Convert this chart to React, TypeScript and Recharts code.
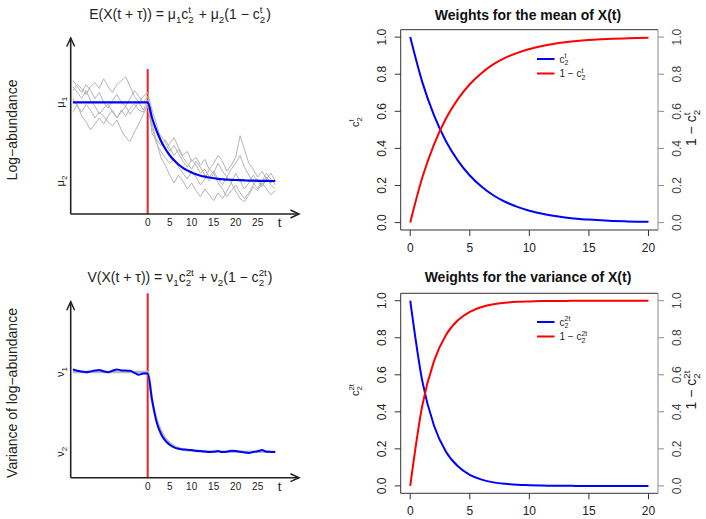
import React from "react";
import { ComposedChart, Line, XAxis, YAxis, ReferenceLine, Legend } from "recharts";

// time axis of the simulated trajectories (left panels)
const simT = [
  -17, -16, -15, -14, -13, -12, -11, -10, -9, -8, -7, -6, -5, -4, -3, -2, -1,
  0, 1, 2, 3, 4, 5, 6, 7, 8, 9, 10, 11, 12, 13, 14, 15, 16, 17, 18, 19, 20,
  21, 22, 23, 24, 25, 26, 27, 28, 29,
];

// five simulated log-abundance paths (grey)
const path1 = [
  7.1, 6.8, 6.5, 6.9, 6.6, 6.2, 6.5, 6.0, 5.7, 6.1, 6.4, 6.0, 5.8, 6.2, 6.6, 6.3, 6.0,
  6.3, 5.2, 4.6, 4.3, 4.0, 3.5, 3.8, 3.4, 3.0, 2.7, 3.1, 2.8, 2.4, 2.6, 2.2, 2.5, 2.1, 1.8, 2.2, 1.9,
  2.4, 2.0, 1.6, 1.9, 2.3, 2.0, 1.7, 2.1, 1.8, 1.6,
];
const path2 = [
  6.6, 6.9, 6.7, 6.4, 6.8, 7.0, 6.7, 7.2, 6.8, 6.5, 6.9, 7.1, 7.3, 6.8, 6.3, 6.0, 6.3,
  6.5, 5.6, 4.9, 4.1, 3.6, 3.9, 4.2, 3.7, 3.3, 3.5, 3.0, 3.2, 2.8, 3.1, 2.6, 2.9, 3.3, 3.0, 2.5, 2.8,
  3.2, 4.3, 3.6, 2.9, 2.6, 2.2, 2.5, 2.1, 2.4, 2.0,
];
const path3 = [
  6.2, 5.8, 5.5, 5.9, 5.6, 5.2, 5.5, 5.3, 5.0, 4.8, 5.1, 4.6, 4.2, 4.0, 4.5, 4.9, 5.4,
  5.8, 4.9, 4.0, 3.2, 2.8, 2.3, 1.9, 2.3, 2.0, 1.6, 1.9, 1.5, 1.2, 1.6, 1.3, 1.0, 1.4, 1.1, 1.5, 1.9,
  1.5, 1.1, 0.95, 1.3, 1.7, 1.5, 1.9, 1.6, 1.3, 1.5,
];
const path4 = [
  5.5, 5.9, 5.3, 5.0, 4.6, 4.9, 5.2, 4.9, 5.3, 5.6, 5.2, 5.5, 5.8, 5.4, 5.7, 6.0, 5.6,
  6.1, 4.4, 4.1, 3.8, 4.1, 3.7, 3.3, 3.6, 3.2, 2.9, 2.6, 3.0, 2.7, 2.3, 2.0, 2.4, 1.9, 1.6, 1.2, 1.5,
  1.8, 1.4, 1.1, 1.4, 1.8, 2.1, 1.8, 2.2, 1.9, 2.1,
];
const path5 = [
  6.8, 6.5, 6.2, 6.6, 6.1, 5.8, 5.4, 5.7, 5.9, 5.5, 5.2, 5.6, 5.3, 5.7, 5.9, 5.6, 5.5,
  5.9, 4.7, 3.9, 3.5, 3.2, 2.9, 3.1, 2.7, 2.4, 2.1, 2.5, 2.2, 1.8, 2.1, 2.6, 2.4, 2.9, 2.5, 2.2, 2.6,
  2.9, 3.3, 2.7, 2.3, 1.9, 1.6, 2.0, 2.4, 2.1, 1.8,
];
// expected log-abundance (blue)
const meanPath = [
  6, 6, 6, 6, 6, 6, 6, 6, 6, 6, 6, 6, 6, 6, 6, 6, 6,
  6, 5.2, 4.56, 4.05, 3.64, 3.31, 3.05, 2.84, 2.67, 2.54, 2.43, 2.34, 2.27, 2.22, 2.18, 2.14, 2.11, 2.09, 2.07, 2.06,
  2.05, 2.04, 2.03, 2.02, 2.02, 2.01, 2.01, 2.01, 2.0, 2.0,
];
// variance: empirical (blue) and theoretical (grey)
const varEmpirical = [
  6.13, 6.06, 6.02, 5.99, 6.03, 6.07, 6.1, 6.03, 5.99, 6.06, 6.13, 6.08, 6.07, 6.06, 5.96, 5.86, 5.92,
  5.92, 4.6, 3.5, 2.9, 2.55, 2.35, 2.22, 2.15, 2.11, 2.1, 2.08, 2.05, 2.03, 2.01, 1.98, 2.0, 2.03, 1.98, 2.0, 2.05,
  2.04, 2.0, 1.96, 1.94, 1.99, 2.02, 2.08, 2.0, 1.99, 1.98,
];
const varTheory = [
  6, 6, 6, 6, 6, 6, 6, 6, 6, 6, 6, 6, 6, 6, 6, 6, 6,
  6, 4.56, 3.64, 3.05, 2.67, 2.43, 2.27, 2.18, 2.11, 2.07, 2.05, 2.03, 2.02, 2.01, 2.01, 2.0, 2.0, 2.0, 2.0, 2.0,
  2.0, 2.0, 2.0, 2.0, 2.0, 2.0, 2.0, 2.0, 2.0, 2.0,
];

// weights (right panels)
const weightT = [0, 1, 2, 3, 4, 5, 6, 7, 8, 9, 10, 11, 12, 13, 14, 15, 16, 17, 18, 19, 20];
const meanW = [1, 0.76, 0.578, 0.439, 0.334, 0.254, 0.193, 0.146, 0.111, 0.085, 0.064, 0.049, 0.037, 0.028, 0.021, 0.016, 0.012, 0.009, 0.007, 0.005, 0.004];
const meanW1 = [0, 0.24, 0.422, 0.561, 0.666, 0.746, 0.807, 0.854, 0.889, 0.915, 0.936, 0.951, 0.963, 0.972, 0.979, 0.984, 0.988, 0.991, 0.993, 0.995, 0.996];
const varW = [1, 0.57, 0.325, 0.185, 0.106, 0.06, 0.034, 0.019, 0.011, 0.006, 0.004, 0.002, 0.001, 0.001, 0, 0, 0, 0, 0, 0, 0];
const varW1 = [0, 0.43, 0.675, 0.815, 0.894, 0.94, 0.966, 0.981, 0.989, 0.994, 0.996, 0.998, 0.999, 0.999, 1, 1, 1, 1, 1, 1, 1];

const simTicks = [0, 5, 10, 15, 20, 25, 30];
const levelTicks = [2, 6];
const weightTicks = [0, 5, 10, 15, 20];
const probTicks = [0, 0.2, 0.4, 0.6, 0.8, 1];

const FONT = '"Liberation Sans", Arial, Helvetica, sans-serif';
const INK = "#222";

const simData = simT.map((t, i) => ({
  t, p1: path1[i], p2: path2[i], p3: path3[i], p4: path4[i], p5: path5[i],
  mean: meanPath[i], vEmp: varEmpirical[i], vTh: varTheory[i],
}));
const meanWData = weightT.map((t, i) => ({ t, w: meanW[i], w1: meanW1[i] }));
const varWData = weightT.map((t, i) => ({ t, w: varW[i], w1: varW1[i] }));

type Tok = { s: string; sub?: string; sup?: string };
const charW = (s: string) => s.split("").reduce((a, c) => a + (c === "t" ? 0.278 : 0.556), 0);

// plotmath-ish text: base, subscript, stacked superscript
function mathSpans(toks: Tok[], fs: number) {
  const out: React.ReactNode[] = [];
  const small = fs * 0.7;
  let off = 0;
  let dx = 0;
  toks.forEach((tk, i) => {
    out.push(<tspan key={i + "b"} dy={-off} dx={dx}>{tk.s}</tspan>);
    off = 0;
    dx = 0;
    if (tk.sub) {
      out.push(<tspan key={i + "s"} fontSize={small} dy={fs * 0.25}>{tk.sub}</tspan>);
      off = fs * 0.25;
    }
    if (tk.sup) {
      const back = tk.sub ? charW(tk.sub) * small : 0;
      out.push(
        <tspan key={i + "p"} fontSize={small} dx={-back} dy={-fs * 0.45 - off}>{tk.sup}</tspan>
      );
      off = -fs * 0.45;
      dx = Math.max(0, back - charW(tk.sup) * small) + 1;
    }
  });
  return out;
}

const SimXTick = (props: any) => {
  const { x, y, payload } = props;
  const isT = payload.value === 30;
  return (
    <text x={x} y={y} dy={isT ? "0.62em" : "0.71em"} textAnchor="middle" fontSize={isT ? 13 : 10} fill={INK} fontFamily={FONT}>
      {isT ? "t" : payload.value}
    </text>
  );
};

const makeLevelTick = (sym: string) => (props: any) => {
  const { x, y, payload } = props;
  const idx = payload.value === 6 ? "1" : "2";
  return (
    <text transform={`translate(${x},${y}) rotate(-90)`} textAnchor="middle" fontSize={11} fill={INK} fontFamily={FONT}>
      {sym}
      <tspan fontSize={8} dy={2.5}>{idx}</tspan>
    </text>
  );
};

const makeProbTick = (color: string) => (props: any) => {
  const { x, y, payload } = props;
  return (
    <text transform={`translate(${x},${y}) rotate(-90)`} textAnchor="middle" fontSize={12} fill={color} fontFamily={FONT}>
      {Number(payload.value).toFixed(1)}
    </text>
  );
};

const WeightXTick = (props: any) => {
  const { x, y, payload } = props;
  return (
    <text x={x} y={y} dy="0.71em" textAnchor="middle" fontSize={12} fill={INK} fontFamily={FONT}>
      {payload.value}
    </text>
  );
};

const makeLegend = (labels: Record<string, Tok[]>) => (props: any) => {
  const payload = props.payload ?? [];
  return (
    <svg width={110} height={34} style={{ overflow: "visible", display: "block" }}>
      {payload.map((e: any, i: number) => (
        <g key={i}>
          <line x1={0} x2={17.5} y1={7 + i * 14.5} y2={7 + i * 14.5} stroke={e.color} strokeWidth={2} />
          <text x={22.5} y={10.5 + i * 14.5} fontSize={10} fill={INK} fontFamily={FONT} style={{ whiteSpace: "pre" }}>
            {mathSpans(labels[e.dataKey], 10)}
          </text>
        </g>
      ))}
    </svg>
  );
};

const axisArrowX = { stroke: INK, strokeWidth: 1.6, markerEnd: "url(#arrowHead)" };
const axisArrowY = { stroke: INK, strokeWidth: 1.6, markerStart: "url(#arrowHead)" };

function SimPanel(props: {
  top: number; height: number; marginTop: number; xAxisHeight: number;
  domain: [number, number]; redTop: number; variance: boolean;
}) {
  const { top, height, marginTop, xAxisHeight, domain, redTop, variance } = props;
  return (
    <div style={{ position: "absolute", left: 0, top }}>
      <ComposedChart width={353} height={height} data={simData} margin={{ top: marginTop, right: 54, bottom: 0, left: 0 }}>
        <XAxis
          dataKey="t" type="number" domain={[-17.5, 34.4]} allowDataOverflow ticks={simTicks} interval={0}
          height={xAxisHeight} tickSize={0} tickMargin={5} tickLine={false} axisLine={axisArrowX} tick={SimXTick}
        />
        <YAxis
          type="number" domain={domain} allowDataOverflow ticks={levelTicks} interval={0} width={70.7}
          tickSize={0} tickMargin={6.5} tickLine={false} axisLine={axisArrowY}
          tick={makeLevelTick(variance ? "ν" : "μ")}
        />
        <ReferenceLine
          ifOverflow="visible" stroke="#ee2222" strokeWidth={2}
          segment={[{ x: 0, y: domain[0] }, { x: 0, y: redTop }]}
        />
        {variance ? (
          <>
            <Line dataKey="vTh" type="monotone" stroke="#b8b8b8" strokeWidth={2.5} dot={false} activeDot={false} isAnimationActive={false} />
            <Line dataKey="vEmp" type="monotone" stroke="#0000ff" strokeWidth={2} dot={false} activeDot={false} isAnimationActive={false} />
          </>
        ) : (
          <>
            {["p1", "p2", "p3", "p4", "p5"].map((k) => (
              <Line key={k} dataKey={k} type="linear" stroke="#b4b4b4" strokeWidth={1} dot={false} activeDot={false} isAnimationActive={false} />
            ))}
            <Line dataKey="mean" type="monotone" stroke="#0000ff" strokeWidth={2.2} dot={false} activeDot={false} isAnimationActive={false} />
          </>
        )}
      </ComposedChart>
    </div>
  );
}

function WeightPanel(props: {
  top: number; height: number; marginTop: number; xAxisHeight: number; tickMargin: number;
  data: any[]; legendTop: number; labels: Record<string, Tok[]>;
}) {
  const { top, height, marginTop, xAxisHeight, tickMargin, data, legendTop, labels } = props;
  return (
    <div style={{ position: "absolute", left: 353, top }}>
      <ComposedChart width={353} height={height} data={data} margin={{ top: marginTop, right: 0, bottom: 0, left: 0 }}>
        <XAxis
          dataKey="t" type="number" domain={[-0.8, 20.8]} allowDataOverflow ticks={weightTicks} interval={0}
          height={xAxisHeight} tickSize={6} tickMargin={tickMargin} stroke="#333" tick={WeightXTick}
        />
        <YAxis
          yAxisId="l" type="number" domain={[-0.04, 1.04]} allowDataOverflow ticks={probTicks} interval={0}
          width={47.7} tickSize={6} tickMargin={8.7} stroke="#333" tick={makeProbTick(INK)}
        />
        <YAxis
          yAxisId="r" orientation="right" type="number" domain={[-0.04, 1.04]} allowDataOverflow ticks={probTicks}
          interval={0} width={48} tickSize={6} tickMargin={16.5} stroke="#8a8a8a" tick={makeProbTick("#444")}
        />
        <ReferenceLine yAxisId="l" y={1.04} ifOverflow="visible" stroke="#333" />
        <Legend
          verticalAlign="middle" layout="horizontal" content={makeLegend(labels)}
          wrapperStyle={{ left: 184.3, top: legendTop, width: 110, height: 34 }}
        />
        <Line yAxisId="l" dataKey="w" name="w" type="monotone" stroke="#0000ff" strokeWidth={2} dot={false} activeDot={false} isAnimationActive={false} />
        <Line yAxisId="r" dataKey="w1" name="w1" type="monotone" stroke="#ff0000" strokeWidth={2} dot={false} activeDot={false} isAnimationActive={false} />
      </ComposedChart>
    </div>
  );
}

const rotLabel = (x: number, y: number, fs: number, toks: Tok[]) => (
  <text transform={`translate(${x},${y}) rotate(-90)`} textAnchor="middle" fontSize={fs} fill={INK} style={{ whiteSpace: "pre" }}>
    {mathSpans(toks, fs)}
  </text>
);

export default function App() {
  return (
    <div style={{ position: "absolute", left: 0, top: 0, width: 706, height: 519, background: "#fff", fontFamily: FONT }}>
      <SimPanel top={0} height={260} marginTop={38} xAxisHeight={46} domain={[0.323, 9.268]} redTop={7.69} variance={false} />
      <SimPanel top={260} height={259} marginTop={41.7} xAxisHeight={41.3} domain={[0.695, 9.528]} redTop={9.95} variance />
      <WeightPanel
        top={0} height={260} marginTop={29.7} xAxisHeight={30} tickMargin={7.8} data={meanWData} legendTop={52.3}
        labels={{ w: [{ s: "c", sub: "2", sup: "t" }], w1: [{ s: "1 − c", sub: "2", sup: "t" }] }}
      />
      <WeightPanel
        top={260} height={259} marginTop={33.3} xAxisHeight={25.7} tickMargin={6.8} data={varWData} legendTop={55.3}
        labels={{ w: [{ s: "c", sub: "2", sup: "2t" }], w1: [{ s: "1 − c", sub: "2", sup: "2t" }] }}
      />
      <svg width={706} height={519} style={{ position: "absolute", left: 0, top: 0, pointerEvents: "none" }} fontFamily={FONT}>
        <defs>
          <marker id="arrowHead" viewBox="0 0 10 10" refX={9.5} refY={5} markerWidth={9} markerHeight={9}
            markerUnits="userSpaceOnUse" orient="auto-start-reverse" style={{ overflow: "visible" }}>
            <path d="M0,0.6 L9.5,5 L0,9.4" fill="none" stroke={INK} strokeWidth={1.7} />
          </marker>
        </defs>
        <text x={180} y={19} textAnchor="middle" fontSize={14} fill={INK} style={{ whiteSpace: "pre" }}>
          {mathSpans([
            { s: "E(X(t + τ)) = μ", sub: "1" }, { s: "c", sub: "2", sup: "t" }, { s: " + μ", sub: "2" },
            { s: "(1 − c", sub: "2", sup: "t" }, { s: ")" },
          ], 14)}
        </text>
        <text x={180} y={282} textAnchor="middle" fontSize={14} fill={INK} style={{ whiteSpace: "pre" }}>
          {mathSpans([
            { s: "V(X(t + τ)) = ν", sub: "1" }, { s: "c", sub: "2", sup: "2t" }, { s: " + ν", sub: "2" },
            { s: "(1 − c", sub: "2", sup: "2t" }, { s: ")" },
          ], 14)}
        </text>
        <text x={528} y={20} textAnchor="middle" fontSize={14} fontWeight="bold" fill="#111">Weights for the mean of X(t)</text>
        <text x={528} y={282} textAnchor="middle" fontSize={14} fontWeight="bold" fill="#111">Weights for the variance of X(t)</text>
        {rotLabel(17, 130, 14, [{ s: "Log−abundance" }])}
        {rotLabel(17, 393, 14, [{ s: "Variance of log−abundance" }])}
        {rotLabel(359, 122, 11, [{ s: "c", sub: "2", sup: "t" }])}
        {rotLabel(359, 390, 11, [{ s: "c", sub: "2", sup: "2t" }])}
        {rotLabel(696, 128, 14, [{ s: "1 − c", sub: "2", sup: "t" }])}
        {rotLabel(696, 390, 14, [{ s: "1 − c", sub: "2", sup: "2t" }])}
      </svg>
    </div>
  );
}
